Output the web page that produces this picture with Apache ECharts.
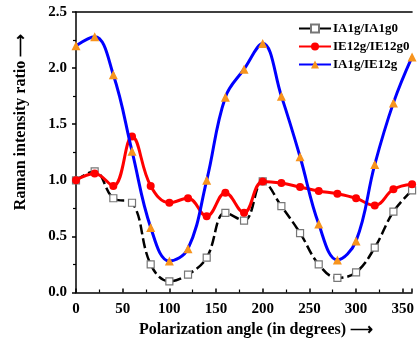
<!DOCTYPE html>
<html>
<head>
<meta charset="utf-8">
<script src="https://cdn.jsdelivr.net/npm/echarts@6/dist/echarts.min.js"></script>
<style>html,body{margin:0;padding:0;background:#fff}#c{width:417px;height:345px}</style>
</head>
<body>
<div id="c"></div>
<script>
var angles = [0,20,40,60,80,100,120,140,160,180,200,220,240,260,280,300,320,340,360];
var seriesNames = ['IA1g/IA1g0','IE12g/IE12g0','IA1g/IE12g'];
var ia1g = [1.00,1.08,0.84,0.80,0.25,0.10,0.16,0.31,0.71,0.64,0.99,0.77,0.53,0.25,0.13,0.18,0.40,0.72,0.91];
var ie12g = [1.00,1.06,0.95,1.39,0.95,0.80,0.84,0.68,0.89,0.71,0.99,0.975,0.94,0.905,0.88,0.84,0.775,0.92,0.965];
var ratio = [2.20,2.28,1.94,1.26,0.58,0.28,0.39,1.00,1.74,1.99,2.22,1.75,1.21,0.61,0.29,0.46,1.14,1.69,2.10];
var xTicks = [0,50,100,150,200,250,300,350];
var yTicks = [0.0,0.5,1.0,1.5,2.0,2.5];

function pairs(v){ return angles.map(function(a,i){ return [a, v[i]]; }); }
var font = '"Liberation Serif","Times New Roman",serif';
var chart = echarts.init(document.getElementById('c'), null, {renderer:'canvas'});
chart.setOption({
  animation:false,
  backgroundColor:'#fff',
  grid:{left:76, top:12, width:338.5, height:280.5},
  xAxis:[{
    type:'value', min:0, max:360, interval:50,
    axisLine:{show:true, lineStyle:{color:'#000', width:1.5}},
    axisTick:{show:true, inside:true, length:4, lineStyle:{color:'#000', width:1.5}},
    minorTick:{show:true, splitNumber:2, length:3, lineStyle:{color:'#000', width:1.2}},
    splitLine:{show:false},
    axisLabel:{margin:9, color:'#000', fontFamily:font, fontWeight:'bold', fontSize:15,
      showMaxLabel:false,
      formatter:function(v){ return xTicks.indexOf(v) >= 0 ? String(v) : ''; }}
  },{
    type:'value', position:'top', min:0, max:360, gridIndex:0,
    axisLine:{show:true, onZero:false, lineStyle:{color:'#000', width:1.5}},
    axisTick:{show:false}, axisLabel:{show:false}, splitLine:{show:false}
  }],
  yAxis:{
    type:'value', min:0, max:2.5, interval:0.5,
    axisLine:{show:true, lineStyle:{color:'#000', width:1.5}},
    axisTick:{show:true, inside:false, length:4, lineStyle:{color:'#000', width:1.5}},
    minorTick:{show:true, splitNumber:2, length:3, lineStyle:{color:'#000', width:1.2}},
    splitLine:{show:false},
    axisLabel:{margin:9, color:'#000', fontFamily:font, fontWeight:'bold', fontSize:15,
      formatter:function(v){ return v.toFixed(1); }}
  },
  legend:{
    orient:'vertical', left:293, top:17, itemWidth:32, itemHeight:10, itemGap:5,
    lineStyle:{type:'solid'},
    textStyle:{fontFamily:font, fontWeight:'bold', fontSize:13, color:'#000', padding:[0,0,0,-3]},
    data:seriesNames
  },
  graphic:[
    {type:'text', x:21, y:122, rotation:Math.PI/2,
     style:{text:'Raman intensity ratio \u27F6', font:'bold 16px '+font, fill:'#000', textAlign:'center', textVerticalAlign:'middle'}},
    {type:'text', x:256, y:330,
     style:{text:'Polarization angle (in degrees) \u27F6', font:'bold 16px '+font, fill:'#000', textAlign:'center', textVerticalAlign:'middle'}}
  ],
  series:[
    {name:seriesNames[0], type:'line', smooth:0.4, data:pairs(ia1g),
     symbol:'rect', symbolSize:7,
     lineStyle:{color:'#000', width:2.5, type:[10,4]},
     itemStyle:{color:'#fff', borderColor:'#777', borderWidth:1.2},
     z:2},
    {name:seriesNames[1], type:'line', smooth:0.4, data:pairs(ie12g),
     symbol:'circle', symbolSize:8,
     lineStyle:{color:'#ff0000', width:3},
     itemStyle:{color:'#ff0000', borderWidth:0},
     z:3},
    {name:seriesNames[2], type:'line', smooth:0.4, data:pairs(ratio),
     symbol:'triangle', symbolSize:9,
     lineStyle:{color:'#0000ff', width:3},
     itemStyle:{color:'#f7941d', borderWidth:0},
     z:4}
  ]
});
</script>
</body>
</html>
